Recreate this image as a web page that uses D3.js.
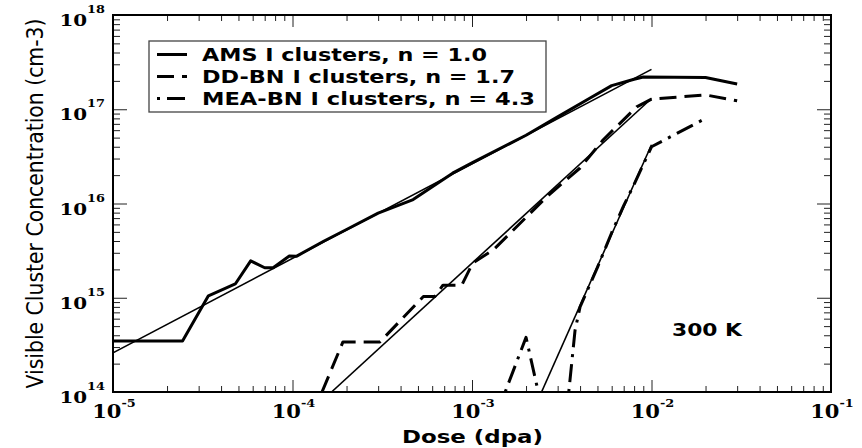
<!DOCTYPE html>
<html>
<head>
<meta charset="utf-8">
<script src="https://cdn.jsdelivr.net/npm/d3@7"></script>
<style>
  body { margin: 0; background: #fff; }
</style>
</head>
<body>
<script>
// dose (dpa) / concentration (cm-3)
const amsDose = [1e-5, 2.44e-5, 3.4e-5, 4.8e-5, 5.85e-5, 7e-5, 7.8e-5, 9.6e-5, 1.05e-4, 1.5e-4, 2e-4, 3e-4, 4.7e-4, 7.8e-4, 1e-3, 2e-3, 3e-3, 4.5e-3, 6e-3, 8e-3, 9e-3, 2e-2, 3e-2];
const amsConc = [3.47e14, 3.47e14, 1.05e15, 1.4e15, 2.46e15, 2.08e15, 2.08e15, 2.77e15, 2.75e15, 4.0e15, 5.3e15, 7.9e15, 1.1e16, 2.1e16, 2.7e16, 5.3e16, 8.3e16, 1.3e17, 1.78e17, 2.08e17, 2.2e17, 2.17e17, 1.85e17];

const ddDose = [1.46e-4, 1.91e-4, 3.07e-4, 5.36e-4, 6.2e-4, 6.89e-4, 8.77e-4, 1.01e-3, 1.31e-3, 2.61e-3, 4.0e-3, 5.37e-3, 8.27e-3, 1e-2, 2e-2, 3e-2];
const ddConc = [1e14, 3.4e14, 3.4e14, 1.03e15, 1.03e15, 1.36e15, 1.36e15, 2.34e15, 3.2e15, 1.18e16, 2.38e16, 4.72e16, 1.06e17, 1.28e17, 1.42e17, 1.23e17];

// null = below the axis (gap in the curve)
const meaDose = [1.53e-3, 2.0e-3, 2.34e-3, 3.0e-3, 3.46e-3, 3.75e-3, 4.0e-3, 5e-3, 6e-3, 7e-3, 8e-3, 1e-2, 2e-2];
const meaConc = [1e14, 3.8e14, 1e14, null, 1e14, 4.5e14, 8e14, 2.1e15, 4.9e15, 9.5e15, 1.6e16, 4e16, 8e16];

// power law fits
const amsFitDose = [1e-5, 1e-2];
const amsFitConc = [2.6e14, 2.65e17];
const ddFitDose = [1.65e-4, 1e-2];
const ddFitConc = [1e14, 1.3e17];
const meaFitDose = [2.44e-3, 1e-2];
const meaFitConc = [1e14, 4.2e16];

const legendLabels = ["AMS I clusters, n = 1.0", "DD-BN I clusters, n = 1.7", "MEA-BN I clusters, n = 4.3"];
const xTickExp = ["-5", "-4", "-3", "-2", "-1"];
const yTickExp = ["14", "15", "16", "17", "18"];

const W = 862, H = 448;
const pLeft = 113, pRight = 831, pTop = 15, pBottom = 392;

const svg = d3.select("body").append("svg").attr("width", W).attr("height", H);
svg.append("rect").attr("width", W).attr("height", H).attr("fill", "#fff");

const x = d3.scaleLog().domain([1e-5, 1e-1]).range([pLeft, pRight]);
const y = d3.scaleLog().domain([1e14, 1e18]).range([pBottom, pTop]);

const isMajor = v => Math.abs(Math.log10(v) - Math.round(Math.log10(v))) < 1e-6;

// clip
svg.append("defs").append("clipPath").attr("id", "plotclip")
  .append("rect").attr("x", pLeft).attr("y", pTop).attr("width", pRight - pLeft).attr("height", pBottom - pTop);

// ticks (inward, on all 4 sides)
function tickAxis(gen, tr, majorLen, minorLen, attr) {
  const g = svg.append("g").attr("transform", tr)
    .call(gen.tickSize(minorLen).tickFormat(""));
  g.select(".domain").remove();
  g.selectAll(".tick line").attr(attr, d => isMajor(d) ? majorLen : minorLen)
    .attr("stroke", "#222").attr("stroke-width", 1);
}
tickAxis(d3.axisBottom(x), `translate(0,${pBottom})`, -12, -6, "y2");
tickAxis(d3.axisTop(x), `translate(0,${pTop})`, 12, 6, "y2");
tickAxis(d3.axisLeft(y), `translate(${pLeft},0)`, 14, 7, "x2");
tickAxis(d3.axisRight(y), `translate(${pRight},0)`, -14, -7, "x2");

// frame
svg.append("rect").attr("x", pLeft).attr("y", pTop).attr("width", pRight - pLeft).attr("height", pBottom - pTop)
  .attr("fill", "none").attr("stroke", "#000").attr("stroke-width", 2);

// tick labels 10^n
function powLabel(px, py, exp, anchor, size, dy) {
  const t = svg.append("g").attr("transform", `translate(${px},${py}) scale(1.17,1)`)
    .append("text").attr("text-anchor", anchor)
    .attr("font-family", "'DejaVu Serif', serif").attr("font-weight", "bold")
    .attr("font-size", size).attr("fill", "#000");
  t.append("tspan").text("10");
  t.append("tspan").attr("font-size", 11).attr("dy", dy).text(exp);
}
const xMajors = x.ticks().filter(isMajor);
xMajors.forEach((v, i) => powLabel(x(v) + 1, pBottom + 26, xTickExp[i], "middle", 18, -11));
const yMajors = y.ticks().filter(isMajor);
yMajors.forEach((v, i) => powLabel(105, y(v) + 11, yTickExp[i], "end", 17, -13));

// axis titles
svg.append("g").attr("transform", `translate(43,${(pTop + pBottom) / 2}) scale(1.15,1) rotate(-90)`)
  .append("text").attr("text-anchor", "middle")
  .attr("font-family", "'DejaVu Sans', sans-serif").attr("font-size", 20)
  .attr("textLength", 370).attr("lengthAdjust", "spacingAndGlyphs")
  .text("Visible Cluster Concentration (cm-3)");

svg.append("text").attr("x", (pLeft + pRight) / 2 - 70).attr("y", 443)
  .attr("font-family", "'DejaVu Sans', sans-serif").attr("font-weight", "bold").attr("font-size", 18)
  .attr("textLength", 141).attr("lengthAdjust", "spacingAndGlyphs")
  .text("Dose (dpa)");

svg.append("text").attr("x", 672).attr("y", 336)
  .attr("font-family", "'DejaVu Sans', sans-serif").attr("font-weight", "bold").attr("font-size", 18)
  .attr("textLength", 70).attr("lengthAdjust", "spacingAndGlyphs")
  .text("300 K");

// curves
const line = d3.line()
  .defined(d => d[1] != null)
  .x(d => x(d[0])).y(d => y(d[1]));
const pairs = (a, b) => a.map((v, i) => [v, b[i]]);

const plotG = svg.append("g").attr("clip-path", "url(#plotclip)");

const styles = [
  { dash: null },
  { dash: "17,8" },
  { dash: "3,7,18,7" }
];

[[amsFitDose, amsFitConc], [ddFitDose, ddFitConc], [meaFitDose, meaFitConc]].forEach(([a, b]) => {
  plotG.append("path").attr("d", line(pairs(a, b)))
    .attr("fill", "none").attr("stroke", "#000").attr("stroke-width", 1.6);
});

[[amsDose, amsConc], [ddDose, ddConc], [meaDose, meaConc]].forEach(([a, b], i) => {
  plotG.append("path").attr("d", line(pairs(a, b)))
    .attr("fill", "none").attr("stroke", "#000").attr("stroke-width", 3)
    .attr("stroke-linejoin", "round")
    .attr("stroke-dasharray", styles[i].dash);
});

// legend
const lg = svg.append("g");
lg.append("rect").attr("x", 149).attr("y", 41).attr("width", 397).attr("height", 71)
  .attr("fill", "#fff").attr("stroke", "#444").attr("stroke-width", 1.3);
const legendLen = [285, 313, 333];
legendLabels.forEach((lab, i) => {
  const by = 61 + i * 22;
  lg.append("line").attr("x1", 157).attr("x2", 187).attr("y1", by - 6.5).attr("y2", by - 6.5)
    .attr("stroke", "#000").attr("stroke-width", 3)
    .attr("stroke-dasharray", styles[i].dash);
  lg.append("text").attr("x", 202).attr("y", by)
    .attr("font-family", "'DejaVu Sans', sans-serif").attr("font-weight", "bold").attr("font-size", 18)
    .attr("textLength", legendLen[i]).attr("lengthAdjust", "spacingAndGlyphs")
    .text(lab);
});
</script>
</body>
</html>
